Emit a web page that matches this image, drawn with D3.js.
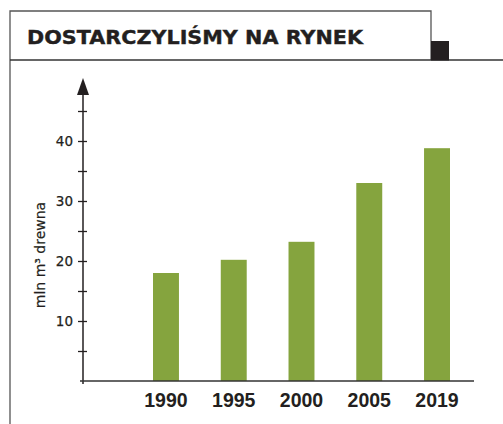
<!DOCTYPE html>
<html>
<head>
<meta charset="utf-8">
<script src="https://cdn.jsdelivr.net/npm/d3@7"></script>
<style>
  html, body { margin: 0; padding: 0; background: #fff; }
  svg { display: block; }
</style>
</head>
<body>
<div id="chart"></div>
<script>
// data
const years = ['1990', '1995', '2000', '2005', '2019'];
const values = [18.0, 20.2, 23.2, 33.0, 38.8];
const tickValues = [5, 10, 15, 20, 25, 30, 35, 40, 45];
const tickLabels = [10, 20, 30, 40];
const title = 'DOSTARCZYLIŚMY NA RYNEK';
const yLabel = 'mln m³ drewna';

const width = 503;
const height = 424;
const barColor = '#85a43e';
const ink = '#231f20';

const svg = d3.select('#chart')
  .append('svg')
  .attr('width', width)
  .attr('height', height)
  .attr('viewBox', `0 0 ${width} ${height}`);

// header frame
svg.append('path')
  .attr('d', 'M10,424 V11 H431 V60')
  .attr('fill', 'none')
  .attr('stroke', '#555')
  .attr('stroke-width', 1.3);

svg.append('line')
  .attr('x1', 10).attr('x2', 503)
  .attr('y1', 60).attr('y2', 60)
  .attr('stroke', '#333')
  .attr('stroke-width', 1.3);

svg.append('rect')
  .attr('x', 431).attr('y', 41)
  .attr('width', 18).attr('height', 19.5)
  .attr('fill', ink);

svg.append('text')
  .attr('x', 27)
  .attr('y', 44)
  .attr('textLength', 336)
  .attr('lengthAdjust', 'spacingAndGlyphs')
  .style('font-family', '"DejaVu Sans", sans-serif')
  .style('font-weight', 'bold')
  .style('font-size', '20px')
  .attr('fill', ink)
  .attr('stroke', ink)
  .attr('stroke-width', 0.4)
  .text(title);

// scales
const y = d3.scaleLinear([0, 50], [381, 81]);
const x = d3.scaleBand()
  .domain(years)
  .range([153, 450])
  .paddingInner(0.617)
  .paddingOuter(0);

const axisX = 83;

// bars
svg.selectAll('.bar')
  .data(years)
  .enter()
  .append('rect')
  .attr('class', 'bar')
  .attr('x', (d) => x(d))
  .attr('y', (d, i) => y(values[i]))
  .attr('width', x.bandwidth())
  .attr('height', (d, i) => y(0) - y(values[i]))
  .attr('fill', barColor);

// y axis
const yAxis = svg.append('g')
  .attr('transform', `translate(${axisX},0)`)
  .call(
    d3.axisLeft(y)
      .tickValues(tickValues)
      .tickSize(5)
      .tickPadding(5)
      .tickFormat((d) => (tickLabels.includes(d) ? d : ''))
  );

yAxis.select('.domain').remove();
yAxis.selectAll('.tick line')
  .attr('x1', 4)
  .attr('x2', -5)
  .attr('stroke', ink)
  .attr('stroke-width', 1.3);
yAxis.selectAll('.tick text')
  .style('font-family', '"DejaVu Sans", sans-serif')
  .style('font-size', '13.5px')
  .attr('fill', ink)
  .attr('stroke', ink)
  .attr('stroke-width', 0.25);

svg.append('line')
  .attr('x1', axisX).attr('x2', axisX)
  .attr('y1', y(0) + 3).attr('y2', 92)
  .attr('stroke', ink)
  .attr('stroke-width', 1.5);

svg.append('path')
  .attr('d', `M${axisX},78 L${axisX + 6},95 L${axisX - 6},95 Z`)
  .attr('fill', ink);

// x axis
svg.append('line')
  .attr('x1', 80).attr('x2', 474)
  .attr('y1', y(0)).attr('y2', y(0))
  .attr('stroke', '#333')
  .attr('stroke-width', 1.3);

svg.append('g')
  .selectAll('text')
  .data(years)
  .enter()
  .append('text')
  .attr('x', (d) => x(d) + x.bandwidth() / 2)
  .attr('y', 407)
  .attr('text-anchor', 'middle')
  .style('font-family', '"Liberation Sans", Arial, sans-serif')
  .style('font-weight', 'bold')
  .style('font-size', '19.5px')
  .attr('fill', ink)
  .text((d) => d);

// y label
svg.append('text')
  .attr('transform', 'translate(45,255) rotate(-90)')
  .attr('text-anchor', 'middle')
  .style('font-family', '"DejaVu Sans", sans-serif')
  .style('font-size', '14px')
  .attr('fill', ink)
  .attr('stroke', ink)
  .attr('stroke-width', 0.2)
  .text(yLabel);
</script>
</body>
</html>
